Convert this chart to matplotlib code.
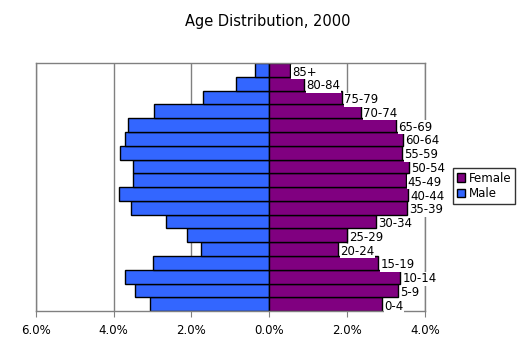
import numpy as np
import matplotlib
matplotlib.use("Agg")
import matplotlib.pyplot as plt
from matplotlib.ticker import FuncFormatter

# age groups, bottom to top
ages = ['0-4', '5-9', '10-14', '15-19', '20-24', '25-29', '30-34', '35-39', '40-44',
        '45-49', '50-54', '55-59', '60-64', '65-69', '70-74', '75-79', '80-84', '85+']
# percent of total population
male = [3.07, 3.45, 3.71, 3.00, 1.76, 2.12, 2.66, 3.55, 3.87,
        3.51, 3.51, 3.84, 3.71, 3.63, 2.97, 1.70, 0.85, 0.37]
female = [2.90, 3.31, 3.37, 2.80, 1.77, 2.00, 2.75, 3.55, 3.57,
          3.51, 3.60, 3.42, 3.44, 3.27, 2.36, 1.87, 0.90, 0.53]

fig = plt.figure(figsize=(5.29, 3.43), dpi=100)
ax = fig.add_axes([0.068, 0.093, 0.735, 0.723])

y = np.arange(len(ages))
ax.barh(y, [-m for m in male], height=1.0, color='#3366FF', edgecolor='black',
        linewidth=1.0, label='Male', zorder=2)
ax.barh(y, female, height=1.0, color='#800080', edgecolor='black',
        linewidth=1.0, label='Female', zorder=2)

# age labels at the end of the female bars
for yi, f, a in zip(y, female, ages):
    ax.annotate(a, (f, yi), xytext=(1.5, -1.5), textcoords='offset points',
                ha='left', va='center', fontsize=8.5, zorder=3,
                bbox=dict(facecolor='white', edgecolor='none', pad=0.3))

ax.set_xlim(-6, 4)
ax.set_ylim(-0.5, len(ages) - 0.5)
ax.set_xticks([-6, -4, -2, 0, 2, 4])
ax.xaxis.set_major_formatter(FuncFormatter(lambda v, p: f'{abs(v):.1f}%'))
ax.set_yticks([])
ax.tick_params(axis='x', length=4, color='#808080', labelsize=8.5, pad=5)
ax.grid(axis='x', color='#808080', linewidth=1.0, zorder=0)
for s in ax.spines.values():
    s.set_color('#808080')
    s.set_linewidth(1.0)

fig.suptitle('Age Distribution, 2000', x=0.507, y=0.96, fontsize=10.5)

handles, labels = ax.get_legend_handles_labels()
leg = fig.legend(handles[::-1], labels[::-1], loc='upper left',
                 bbox_to_anchor=(0.857, 0.51), fontsize=8.5, frameon=True,
                 fancybox=False, edgecolor='black', handlelength=0.7,
                 handleheight=0.7, handletextpad=0.3, borderpad=0.3,
                 labelspacing=0.2, borderaxespad=0)
leg.get_frame().set_linewidth(1.0)

fig.savefig('out.png', dpi=100)
